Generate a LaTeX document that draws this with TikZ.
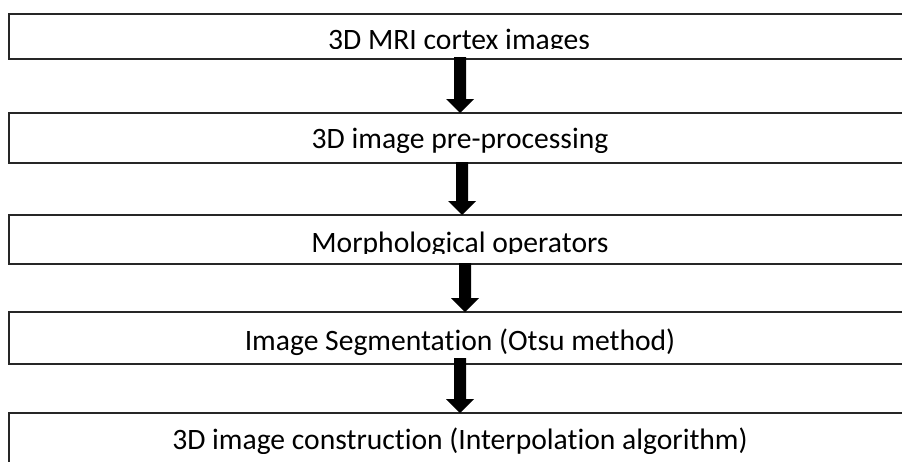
\documentclass[tikz,border=0pt]{standalone}
\usepackage{fontspec}
\setmainfont[Ligatures=NoCommon]{Carlito}
\usetikzlibrary{calc}

% block arrow pointing down from #1 to its tip #2
\newcommand{\blockdown}[2]{%
  \fill[arrowfill] ($(#1)+(-6,0)$) -- ($(#2)+(-6,-14)$) -- ($(#2)+(-14,-14)$) -- (#2)
    -- ($(#2)+(14,-14)$) -- ($(#2)+(6,-14)$) -- ($(#1)+(6,0)$) -- cycle;}

\tikzset{
  stagebox/.style={draw=black!85, line width=1.1pt},
  stagetext/.style={anchor=base, inner sep=0pt, font=\fontsize{29.6}{34}\selectfont},
  arrowfill/.style={fill=black},
}

\begin{document}
\begin{tikzpicture}[x=1pt, y=-1pt]
  \clip (0,0) rectangle (902,461);
  \fill[white] (0,0) rectangle (902,461);

  % stage frames
  \draw[stagebox] (9,14) rectangle (911,59);
  \coordinate (b1top) at (460,14);  \coordinate (b1bot) at (460,57);
  \draw[stagebox] (9,113) rectangle (911,163);
  \coordinate (b2top) at (460,113); \coordinate (b2bot) at (462,162);
  \draw[stagebox] (9,215) rectangle (911,264);
  \coordinate (b3top) at (462,215); \coordinate (b3bot) at (465,263);
  \draw[stagebox] (9,312) rectangle (911,364);
  \coordinate (b4top) at (465,312); \coordinate (b4bot) at (460,358);
  \draw[stagebox] (9,413) rectangle (911,475);
  \coordinate (b5top) at (460,413);

  % stage labels, cut off by the inner text area of each frame
  \begin{scope}
    \clip (10,15) rectangle (910,48);
    \node[stagetext] (t1) at (459,49) {3D MRI cortex images};
  \end{scope}
  \begin{scope}
    \clip (10,114) rectangle (910,152);
    \node[stagetext] (t2) at (460,148) {3D image pre-processing};
  \end{scope}
  \begin{scope}
    \clip (10,216) rectangle (910,253);
    \node[stagetext] (t3) at (460,252) {Morphological operators};
  \end{scope}
  \node[stagetext] (t4) at (460,350) {Image Segmentation (Otsu method)};
  \begin{scope}
    \clip (10,414) rectangle (910,453);
    \node[stagetext] (t5) at (460,449) {3D image construction (Interpolation algorithm)};
  \end{scope}

  % connectors between stages
  \blockdown{b1bot}{b2top}
  \blockdown{b2bot}{b3top}
  \blockdown{b3bot}{b4top}
  \blockdown{b4bot}{b5top}
\end{tikzpicture}
\end{document}
